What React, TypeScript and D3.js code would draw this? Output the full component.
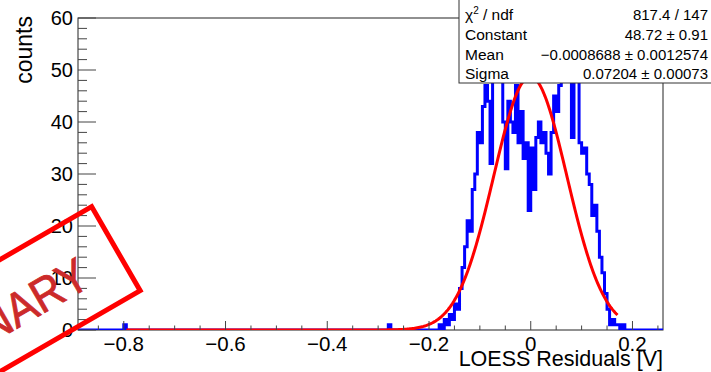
import React, { useEffect, useRef } from 'react';
import * as d3 from 'd3';

// histogram binning (LOESS residuals)
const xMin = -0.89;
const xMax = 0.26;
const binWidth = 0.005;
// counts of the central bins, starting at coreStart
const coreStart = -0.18;
const coreCounts = [
  1, 0, 2, 1, 3, 2, 5, 4, 8, 12, 16, 21, 19, 27, 30, 38, 36, 43, 47, 44,
  32, 48, 55, 52, 50, 40, 31, 44, 40, 38, 47, 36, 42, 33, 36, 23, 35, 27, 37, 40,
  36, 38, 34, 30, 38, 45, 42, 47, 52, 49, 50, 49, 37, 48, 50, 36, 34, 35, 30, 28,
  22, 24, 19, 14, 11, 7, 4, 1, 2, 1, 1, 0, 1,
];
// isolated entries far from the core
const outlierX = [-0.8, -0.28];
const outlierN = [1, 1];

// gaussian fit results
const fitConst = 48.72;
const fitMean = -0.0008688;
const fitSigma = 0.07204;
const fitRange = [-0.795, 0.1705];

const statLabels = ['χ2 / ndf', 'Constant', 'Mean', 'Sigma'];
const statValues = ['817.4 / 147', '48.72 ± 0.91', '−0.0008688 ± 0.0012574', '0.07204 ± 0.00073'];

const xMajor = [-0.8, -0.6, -0.4, -0.2, 0, 0.2];
const yMajor = [0, 10, 20, 30, 40, 50, 60];

const W = 711;
const H = 372;
const FONT = '"Liberation Sans", Arial, Helvetica, sans-serif';

const App = () => {
  const ref = useRef<SVGSVGElement>(null);

  useEffect(() => {
    const svg = d3.select(ref.current);
    svg.selectAll('*').remove();

    const left = 78, right = 663, top = 18, bottom = 330;
    const x = d3.scaleLinear().domain([xMin, xMax]).range([left, right]);
    const y = d3.scaleLinear().domain([0, 60]).range([bottom, top]);

    // build full histogram
    const nBins = Math.round((xMax - xMin) / binWidth);
    const counts = new Array(nBins).fill(0);
    const idx = (v: number) => Math.floor((v - xMin) / binWidth + 1e-6);
    const start = idx(coreStart);
    coreCounts.forEach((c, i) => { counts[start + i] = c; });
    outlierX.forEach((v, i) => { counts[idx(v)] += outlierN[i]; });

    svg.append('defs').append('clipPath').attr('id', 'frame')
      .append('rect').attr('x', left).attr('y', top).attr('width', right - left).attr('height', bottom - top);

    // frame
    svg.append('rect')
      .attr('x', left).attr('y', top).attr('width', right - left).attr('height', bottom - top)
      .attr('fill', 'none').attr('stroke', '#222').attr('stroke-width', 1);

    const pts: [number, number][] = counts.map((c, i) => [xMin + i * binWidth, c]);
    pts.push([xMax, counts[nBins - 1]]);
    const step = d3.line<[number, number]>()
      .x(d => x(d[0])).y(d => y(d[1]))
      .curve(d3.curveStepAfter);

    const g = svg.append('g').attr('clip-path', 'url(#frame)');
    g.append('path')
      .attr('d', step(pts))
      .attr('fill', 'none').attr('stroke', '#0000ff').attr('stroke-width', 3);

    // fit curve
    const gauss = (v: number) => fitConst * Math.exp(-0.5 * ((v - fitMean) / fitSigma) ** 2);
    const fx = d3.range(0, 401).map(i => fitRange[0] + (fitRange[1] - fitRange[0]) * i / 400);
    const fitLine = d3.line<number>().x(v => x(v)).y(v => y(gauss(v)));
    g.append('path')
      .attr('d', fitLine(fx))
      .attr('fill', 'none').attr('stroke', '#ff0000').attr('stroke-width', 3);

    // y axis
    const ax = svg.append('g').attr('stroke', '#444').attr('stroke-width', 1);
    d3.range(0, 61, 2).forEach(v => {
      const len = v % 10 === 0 ? 18 : 9;
      ax.append('line').attr('x1', left).attr('x2', left + len).attr('y1', y(v)).attr('y2', y(v));
    });
    // x axis ticks
    d3.range(-17, 6).forEach(k => {
      const v = k * 0.05;
      const len = k % 4 === 0 ? 9 : 4.5;
      ax.append('line').attr('x1', x(v)).attr('x2', x(v)).attr('y1', bottom).attr('y2', bottom - len);
    });

    svg.append('g').selectAll('text').data(yMajor).enter().append('text')
      .attr('x', 73).attr('y', d => y(d)).attr('dy', '0.36em')
      .attr('text-anchor', 'end').attr('font-family', FONT).attr('font-size', 20)
      .text(d => String(d));

    svg.append('g').selectAll('text').data(xMajor).enter().append('text')
      .attr('x', d => x(d)).attr('y', 351)
      .attr('text-anchor', 'middle').attr('font-family', FONT).attr('font-size', 20.5)
      .text(d => (d < 0 ? '−' : '') + String(Math.abs(d)));

    svg.append('text')
      .attr('transform', `translate(32,${top - 2}) rotate(-90)`)
      .attr('text-anchor', 'end').attr('font-family', FONT).attr('font-size', 23)
      .text('counts');

    svg.append('text')
      .attr('x', right).attr('y', 366)
      .attr('text-anchor', 'end').attr('font-family', FONT).attr('font-size', 21.5)
      .text('LOESS Residuals [V]');

    // stats box
    const sb = svg.append('g');
    sb.append('rect').attr('x', 459).attr('y', -2).attr('width', 260).attr('height', 85)
      .attr('fill', '#fff').attr('stroke', '#333').attr('stroke-width', 1);
    statLabels.forEach((lab, i) => {
      const t = sb.append('text').attr('x', 465).attr('y', 20 + i * 19.8)
        .attr('font-family', FONT).attr('font-size', 15.5);
      if (i === 0) {
        t.append('tspan').text('χ');
        t.append('tspan').attr('font-size', 10).attr('dy', -6).text('2');
        t.append('tspan').attr('dy', 6).text(' / ndf');
      } else {
        t.text(lab);
      }
      sb.append('text').attr('x', 708).attr('y', 20 + i * 19.8)
        .attr('text-anchor', 'end').attr('font-family', FONT).attr('font-size', 15)
        .text(statValues[i]);
    });

    // preliminary stamp
    const bw = 340, bh = 97;
    const cx = 115.9 - 0.866 * bw / 2, cy = 248.7 + 0.5 * bw / 2;
    const st = svg.append('g').attr('transform', `translate(${cx},${cy}) rotate(-30)`);
    st.append('rect').attr('x', -bw / 2).attr('y', -bh / 2).attr('width', bw).attr('height', bh)
      .attr('fill', 'none').attr('stroke', '#ff0000').attr('stroke-width', 5);
    st.append('text').attr('transform', 'translate(-14,20) scale(0.9,1)')
      .attr('text-anchor', 'middle').attr('font-family', FONT).attr('font-size', 48)
      .attr('fill', '#cc2a2a').attr('stroke', '#cc2a2a').attr('stroke-width', 0.8)
      .text('PRELIMINARY');
  }, []);

  return (
    <svg ref={ref} width={W} height={H}
      style={{ position: 'absolute', left: 0, top: 0, background: '#fff' }} />
  );
};

export default App;
